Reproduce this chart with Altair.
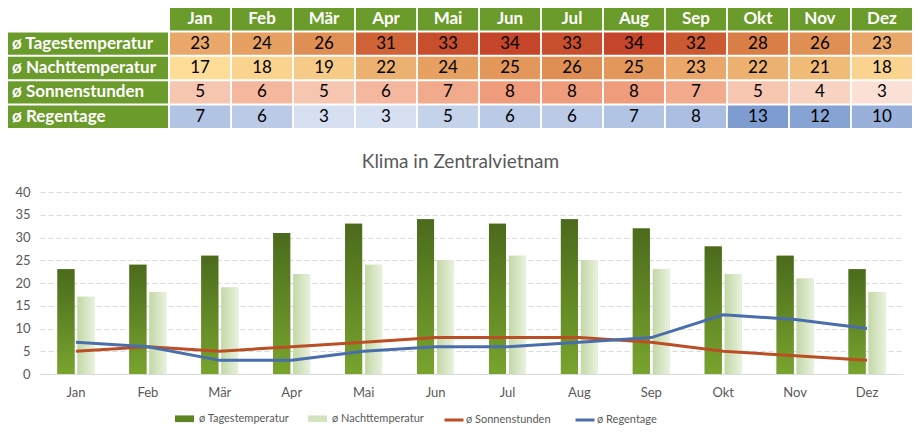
import altair as alt
import pandas as pd

months = ["Jan", "Feb", "Mär", "Apr", "Mai", "Jun", "Jul", "Aug", "Sep", "Okt", "Nov", "Dez"]
tages = [23, 24, 26, 31, 33, 34, 33, 34, 32, 28, 26, 23]
nacht = [17, 18, 19, 22, 24, 25, 26, 25, 23, 22, 21, 18]
sonne = [5, 6, 5, 6, 7, 8, 8, 8, 7, 5, 4, 3]
regen = [7, 6, 3, 3, 5, 6, 6, 7, 8, 13, 12, 10]
series = ["ø Tagestemperatur", "ø Nachttemperatur", "ø Sonnenstunden", "ø Regentage"]
chart_title = "Klima in Zentralvietnam"
y_ticks = [0, 5, 10, 15, 20, 25, 30, 35, 40]

GREEN = "#6B9B2A"
FONT = "Lato"
GREY = "#595959"

rows = []
for s, vals in zip(series, [tages, nacht, sonne, regen]):
    for m, v in zip(months, vals):
        rows.append({"month": m, "series": s, "row": s, "value": v})
df = pd.DataFrame(rows)
hdr = pd.DataFrame({"month": months, "row": ["hdr"] * len(months)})
lab = pd.DataFrame({"row": series})

ydom = ["hdr"] + series
Yt = alt.Y("row:N", scale=alt.Scale(domain=ydom, paddingInner=0.08, paddingOuter=0), axis=None)
Xt = alt.X("month:N", sort=months, scale=alt.Scale(domain=months, paddingInner=0.03, paddingOuter=0), axis=None)

hdr_rect = alt.Chart(hdr).mark_rect(fill=GREEN).encode(x=Xt, y=Yt)
hdr_text = alt.Chart(hdr).mark_text(font=FONT, fontSize=17, fontWeight="bold", color="white").encode(
    x=Xt, y=Yt, text="month:N")
temp_rect = alt.Chart(df).transform_filter(
    alt.FieldOneOfPredicate(field="series", oneOf=series[:2])
).mark_rect().encode(
    x=Xt, y=Yt,
    color=alt.Color("value:Q", scale=alt.Scale(domain=[17, 23, 34], range=["#FDDD97", "#E9A86A", "#C4452A"]), legend=None))
sun_rect = alt.Chart(df).transform_filter(
    alt.FieldEqualPredicate(field="series", equal=series[2])
).mark_rect().encode(
    x=Xt, y=Yt,
    color=alt.Color("value:Q", scale=alt.Scale(domain=[3, 8], range=["#FBE1D5", "#EE9C7B"]), legend=None))
rain_rect = alt.Chart(df).transform_filter(
    alt.FieldEqualPredicate(field="series", equal=series[3])
).mark_rect().encode(
    x=Xt, y=Yt,
    color=alt.Color("value:Q", scale=alt.Scale(domain=[3, 13], range=["#D6E0F1", "#7E9CD0"]), legend=None))
val_text = alt.Chart(df).mark_text(font=FONT, fontSize=17, color="black").encode(
    x=Xt, y=Yt, text="value:Q")

grid = alt.layer(hdr_rect, temp_rect, sun_rect, rain_rect, hdr_text, val_text).resolve_scale(
    color="independent").properties(width=742, height=120)

lab_rect = alt.Chart(lab).mark_rect(fill=GREEN).encode(y=Yt, x=alt.value(0), x2=alt.value(160))
lab_text = alt.Chart(lab).mark_text(font=FONT, fontSize=17, fontWeight="bold", color="white", align="left").encode(
    y=Yt, x=alt.value(4), text="row:N")
labels = alt.layer(lab_rect, lab_text).properties(width=160, height=120)

table = alt.hconcat(labels, grid, spacing=2)

# ---- combo chart ----
X = alt.X("month:N", sort=months, scale=alt.Scale(domain=months, range=[32, 895], paddingInner=0, paddingOuter=0),
          axis=alt.Axis(title=None, labelAngle=0, ticks=False, domainColor="#D9D9D9", labelFont=FONT,
                        labelFontSize=13, labelColor=GREY, labelPadding=12, grid=False))
Y = alt.Y("value:Q", scale=alt.Scale(domain=[0, 40]),
          axis=alt.Axis(title=None, values=y_ticks, ticks=False, domain=False, grid=True, gridDash=[5, 3],
                        gridColor="#D9D9D9", labelFont=FONT, labelFontSize=13, labelColor=GREY,
                        labelPadding=10, offset=-32))
XO = alt.XOffset("series:N", scale=alt.Scale(domain=series[:2], paddingInner=0.15, paddingOuter=0.875))

bar_df = df[df["series"].isin(series[:2])]
line_df = df[df["series"].isin(series[2:])]

bars = alt.Chart(bar_df).mark_bar().encode(
    x=X, y=Y, xOffset=XO,
    fill=alt.Fill("series:N", scale=alt.Scale(domain=series[:2], range=["#5E8424", "#D3E3BF"]),
                  legend=alt.Legend(title=None, orient="none", direction="horizontal", legendX=167, legendY=401,
                                    symbolType="M-1,-0.35H1V0.35H-1Z", symbolSize=361, symbolStrokeWidth=0,
                                    labelFont=FONT, labelFontSize=11, labelColor=GREY, labelOffset=5,
                                    columnPadding=18, padding=0)))
dark_grad = alt.Gradient(gradient="linear", x1=0, x2=0, y1=0, y2=1,
                         stops=[alt.GradientStop(color="#4B6A1C", offset=0),
                                alt.GradientStop(color="#78A42E", offset=1)])
light_grad = alt.Gradient(gradient="linear", x1=0, x2=1, y1=0, y2=0,
                          stops=[alt.GradientStop(color="#C3D8A6", offset=0),
                                 alt.GradientStop(color="#E9F1DE", offset=1)])
bars_dark = alt.Chart(bar_df).transform_filter(
    alt.FieldEqualPredicate(field="series", equal=series[0])
).mark_bar(fill=dark_grad).encode(x=X, y=Y, xOffset=XO)
bars_light = alt.Chart(bar_df).transform_filter(
    alt.FieldEqualPredicate(field="series", equal=series[1])
).mark_bar(fill=light_grad).encode(x=X, y=Y, xOffset=XO)

lines = alt.Chart(line_df).mark_line(strokeWidth=3).encode(
    x=X, y=Y,
    stroke=alt.Stroke("series:N", scale=alt.Scale(domain=series[2:], range=["#BB4E25", "#4A6EAB"]),
                      legend=alt.Legend(title=None, orient="none", direction="horizontal", legendX=435, legendY=401,
                                        symbolType="stroke", symbolSize=361, symbolStrokeWidth=3,
                                        labelFont=FONT, labelFontSize=11, labelColor=GREY, labelOffset=1,
                                        columnPadding=18, padding=0)))

combo = alt.layer(bars, bars_dark, bars_light, lines).properties(
    width=895, height=182,
    title=alt.TitleParams(chart_title, font=FONT, fontSize=19, fontWeight="normal", color=GREY,
                          anchor="middle", dx=5, offset=14))

chart = alt.concat(table, combo, columns=1, spacing=25).properties(
    padding=0).configure_view(stroke=None)

chart.save("out.html", embed_options={"renderer": "svg", "actions": False})
